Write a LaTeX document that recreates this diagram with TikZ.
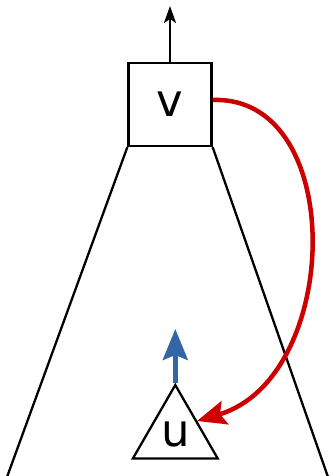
\documentclass[tikz,border=0pt]{standalone}
\usepackage{fontspec}
\setmainfont{DejaVu Sans}
\usepackage{xcolor}
\usepackage{tikz}
\usetikzlibrary{arrows.meta,shapes.geometric}
\definecolor{jump}{HTML}{CC0000}
\definecolor{up}{HTML}{3465A4}
\tikzset{
  edge/.style={draw=black, line width=2.3pt},
  vbox/.style={draw=black, line width=2.3pt, minimum size=83pt, inner sep=0pt,
    font=\fontsize{45}{45}\selectfont},
  utri/.style={regular polygon, regular polygon sides=3, draw=black, line width=2.3pt,
    minimum size=98pt, inner sep=0pt, font=\fontsize{45}{45}\selectfont},
  parent/.style={edge, -{Stealth[length=17pt, width=12pt, inset=4pt]}},
  climb/.style={draw=up, line width=4.5pt, -{Stealth[length=31pt, width=25pt, inset=5pt]}},
  link/.style={draw=jump, line width=4.5pt, -{Stealth[length=29pt, width=24pt, inset=5pt]}}
}

\begin{document}
\begin{tikzpicture}[x=1pt, y=-1pt]
\useasboundingbox (0,0) rectangle (334,476);
% node v and its parent edge
\node[vbox] (v) at (170,104.5) {v};
\coordinate (top) at (170,6);
\draw[parent] (v.north) -- (top);

% subtree below v
\coordinate (left) at (7,477);
\coordinate (right) at (328,477);
\draw[edge] (v.south west) -- (left);
\draw[edge] (v.south east) -- (right);

% node u
\node[utri] (u) at (175.3,434) {u};
\coordinate (uup) at (175.3,329);
\draw[climb] (u.corner 1) -- (uup);

% jump from v to u
\draw[link] ([yshift=4.5pt]v.east) .. controls (348,95) and (342,378) .. (197,421);
\end{tikzpicture}
\end{document}
